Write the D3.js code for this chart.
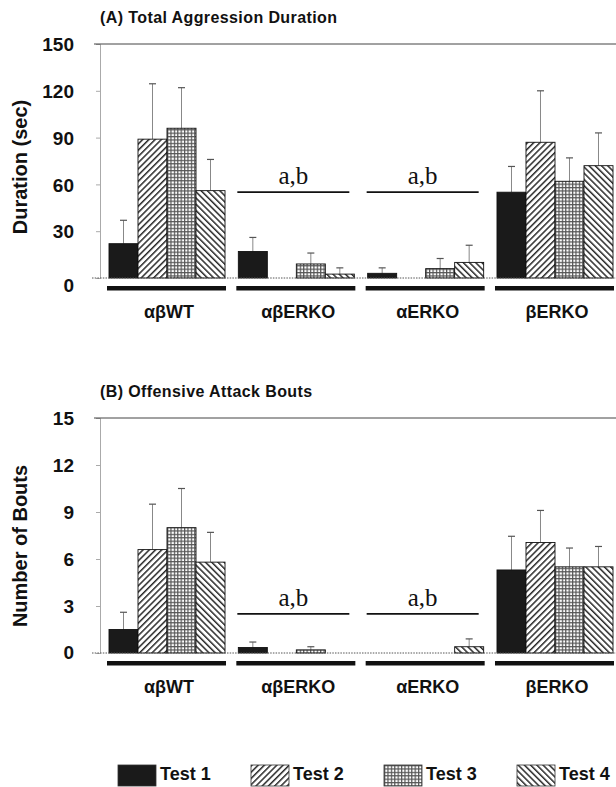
<!DOCTYPE html>
<html>
<head>
<meta charset="utf-8">
<script src="https://cdn.jsdelivr.net/npm/d3@7"></script>
<style>
  body { margin: 0; background: #fff; }
  text { font-family: "Liberation Sans", Arial, sans-serif; font-weight: bold; fill: #111; }
  .sig { font-family: "Liberation Serif", "Times New Roman", serif; font-weight: normal; }
</style>
</head>
<body>
<svg id="chart" width="616" height="787"></svg>
<script>
var groups = ["αβWT", "αβERKO", "αERKO", "βERKO"];
var tests = ["Test 1", "Test 2", "Test 3", "Test 4"];

// panel A: total aggression duration (sec), mean and sem per group x test
var durMean = [[22, 89, 96, 56], [17, 0, 9, 2.5], [3, 0, 6, 10], [55, 87, 62, 72]];
var durSem = [[15, 35.5, 26, 20], [9, 0, 7, 4], [3.5, 0, 6.5, 11], [16.5, 33, 15, 21]];
var durTicks = [0, 30, 60, 90, 120, 150];

// panel B: offensive attack bouts
var boutMean = [[1.5, 6.6, 8.0, 5.8], [0.35, 0, 0.2, 0], [0, 0, 0, 0.4], [5.3, 7.05, 5.5, 5.5]];
var boutSem = [[1.1, 2.9, 2.5, 1.9], [0.35, 0, 0.2, 0], [0, 0, 0, 0.5], [2.15, 2.05, 1.2, 1.3]];
var boutTicks = [0, 3, 6, 9, 12, 15];

var sigGroups = ["αβERKO", "αERKO"];

var svg = d3.select("#chart");
var defs = svg.append("defs");

// hatch patterns
function hatch(id, angle) {
    var p = defs.append("pattern").attr("id", id)
        .attr("patternUnits", "userSpaceOnUse")
        .attr("width", 4.4).attr("height", 4.4)
        .attr("patternTransform", "rotate(" + angle + ")");
    p.append("rect").attr("width", 4.4).attr("height", 4.4).attr("fill", "#fff");
    p.append("rect").attr("x", 0).attr("width", 1.5).attr("height", 4.4).attr("fill", "#2a2a2a");
}
hatch("t2", 45);
hatch("t4", -45);
var g3 = defs.append("pattern").attr("id", "t3")
    .attr("patternUnits", "userSpaceOnUse").attr("width", 3.4).attr("height", 3.4);
g3.append("rect").attr("width", 3.4).attr("height", 3.4).attr("fill", "#fff");
g3.append("rect").attr("width", 3.4).attr("height", 1.2).attr("fill", "#555");
g3.append("rect").attr("width", 1.2).attr("height", 3.4).attr("fill", "#555");

var fills = ["#1a1a1a", "url(#t2)", "url(#t3)", "url(#t4)"];

var x0 = d3.scaleBand().domain(groups).range([109, 613]).paddingInner(0.103).paddingOuter(0);
var x1 = d3.scaleBand().domain(d3.range(tests.length)).range([0, x0.bandwidth()]);

function drawPanel(cfg) {
    var y = d3.scaleLinear().domain([0, cfg.ticks[cfg.ticks.length - 1]]).range([cfg.bottom, cfg.top]);
    var g = svg.append("g");

    g.append("text").attr("x", 100).attr("y", cfg.top - 21)
        .style("font-size", "16px").style("letter-spacing", "0.4px")
        .text(cfg.title);

    // y axis
    var axis = d3.axisLeft(y).tickValues(cfg.ticks).tickSize(4).tickPadding(22);
    var ax = g.append("g").attr("transform", "translate(100,0)").call(axis);
    ax.select(".domain").attr("stroke", "#aaa");
    ax.selectAll(".tick line").attr("stroke", "#aaa");
    ax.selectAll(".tick text")
        .style("font-family", "'Liberation Sans', Arial, sans-serif")
        .style("font-size", "19px").style("font-weight", "bold").attr("fill", "#111")
        .attr("dy", function(d) { return d === 0 ? cfg.zeroShift + "px" : "0.35em"; });

    g.append("text")
        .attr("transform", "translate(27," + cfg.labelY + ") rotate(-90)")
        .attr("text-anchor", "middle").style("font-size", "20px")
        .text(cfg.ylabel);

    // top frame line
    g.append("line").attr("x1", 94).attr("x2", 616).attr("y1", y(cfg.ticks[cfg.ticks.length - 1])).attr("y2", y(cfg.ticks[cfg.ticks.length - 1]))
        .attr("stroke", "#444").attr("stroke-width", 1);

    var rows = [];
    groups.forEach(function(gr, gi) {
        tests.forEach(function(t, ti) {
            rows.push({ group: gr, test: ti, mean: cfg.mean[gi][ti], sem: cfg.sem[gi][ti] });
        });
    });

    var bars = g.selectAll(".bar").data(rows.filter(function(d) { return d.mean > 0; }))
        .enter().append("g")
        .attr("transform", function(d) { return "translate(" + (x0(d.group) + x1(d.test)) + ",0)"; });

    bars.filter(function(d) { return d.sem > 0; }).append("line")
        .attr("x1", x1.bandwidth() / 2).attr("x2", x1.bandwidth() / 2)
        .attr("y1", function(d) { return y(d.mean); })
        .attr("y2", function(d) { return y(d.mean + d.sem); })
        .attr("stroke", "#888").attr("stroke-width", 1);
    bars.filter(function(d) { return d.sem > 0; }).append("line")
        .attr("x1", x1.bandwidth() / 2 - 3.5).attr("x2", x1.bandwidth() / 2 + 3.5)
        .attr("y1", function(d) { return y(d.mean + d.sem); })
        .attr("y2", function(d) { return y(d.mean + d.sem); })
        .attr("stroke", "#555").attr("stroke-width", 1.2);

    bars.append("rect")
        .attr("width", x1.bandwidth())
        .attr("y", function(d) { return y(d.mean); })
        .attr("height", function(d) { return y(0) - y(d.mean); })
        .attr("fill", function(d) { return fills[d.test]; })
        .attr("stroke", "#111").attr("stroke-width", 0.9);

    // dotted baseline
    g.append("line").attr("x1", 92).attr("x2", 616).attr("y1", y(0)).attr("y2", y(0))
        .attr("stroke", "#555").attr("stroke-width", 1).attr("stroke-dasharray", "1.5,1.2");

    // group underlines and labels
    g.selectAll(".under").data(groups).enter().append("rect")
        .attr("x", function(d) { return x0(d) - 2; })
        .attr("width", x0.bandwidth() + 3)
        .attr("y", y(0) + 8).attr("height", 4.5)
        .attr("fill", "#111");
    g.selectAll(".glabel").data(groups).enter().append("text")
        .attr("x", function(d) { return x0(d) + x0.bandwidth() / 2 + 2; })
        .attr("y", y(0) + 40)
        .attr("text-anchor", "middle").style("font-size", "18px")
        .text(function(d) { return d; });

    // significance markers
    g.selectAll(".sigline").data(sigGroups).enter().append("line")
        .attr("x1", function(d) { return x0(d) - 1; })
        .attr("x2", function(d) { return x0(d) + x0.bandwidth() - 5; })
        .attr("y1", y(cfg.sigAt)).attr("y2", y(cfg.sigAt))
        .attr("stroke", "#111").attr("stroke-width", 1.8);
    g.selectAll(".siglab").data(sigGroups).enter().append("text")
        .attr("class", "sig")
        .attr("x", function(d) { return x0(d) + x0.bandwidth() / 2 - 3; })
        .attr("y", y(cfg.sigAt) - 8)
        .attr("text-anchor", "middle").style("font-size", "25px")
        .text("a,b");
}

drawPanel({ title: "(A) Total Aggression Duration", ylabel: "Duration (sec)", ticks: durTicks,
    mean: durMean, sem: durSem, top: 44, bottom: 278, labelY: 167, sigAt: 55, zeroShift: 13 });
drawPanel({ title: "(B) Offensive Attack Bouts", ylabel: "Number of Bouts", ticks: boutTicks,
    mean: boutMean, sem: boutSem, top: 418, bottom: 653, labelY: 546, sigAt: 2.5, zeroShift: 5 });

// legend
var lx = d3.scaleLinear().domain([0, 3]).range([118, 517]);
var leg = svg.selectAll(".leg").data(tests).enter().append("g")
    .attr("transform", function(d, i) { return "translate(" + lx(i) + ",765)"; });
leg.append("rect").attr("width", 38).attr("height", 21)
    .attr("fill", function(d, i) { return fills[i]; })
    .attr("stroke", "#333").attr("stroke-width", 0.8);
leg.append("text").attr("x", 42).attr("y", 15).style("font-size", "18px")
    .text(function(d) { return d; });
</script>
</body>
</html>
